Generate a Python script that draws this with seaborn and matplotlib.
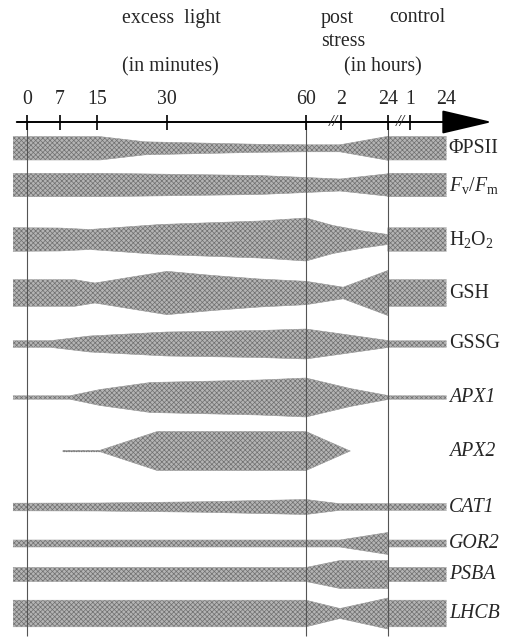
import numpy as np
import pandas as pd
import matplotlib
matplotlib.use('Agg')
import matplotlib.pyplot as plt
import seaborn as sns

# time axis (schematic positions: minutes of excess light, then post stress / control hours)
tick_pos = [0, 7, 15, 30, 60, 67.5, 77.6, 82.4, 90.1]
tick_labels = ['0', '7', '15', '30', '60', '2', '24', '1', '24']
guide_pos = [0, 60, 77.6]
break_pos = [65.8, 80.2]

# relative level (half band width) of each parameter along the time axis
psii_x = [-3, 15.7, 25.4, 50, 60, 67.3, 77.6, 77.6, 90.2]
psii_w = [11.7, 11.7, 6.5, 4, 3.5, 3.5, 12, 11.7, 11.7]
fvfm_x = [-3, 15.7, 50, 60, 67.3, 77.6, 77.6, 90.2]
fvfm_w = [11.7, 11.7, 9.5, 7.5, 6, 11.2, 11.7, 11.7]
h2o2_x = [-3, 7, 13.5, 28.6, 50, 60, 65.8, 72.3, 77.6, 77.6, 90.2]
h2o2_w = [11.8, 11.5, 10, 15, 18.5, 21.5, 14, 8.5, 5, 11.7, 11.7]
gsh_x = [-3, 10.3, 14.6, 30.1, 40, 50, 60, 68, 77.6, 77.6, 90.2]
gsh_w = [13.3, 13.3, 10, 21.7, 17.5, 14, 11.7, 5.8, 22.5, 13.3, 13.3]
gssg_x = [-3, 5, 13.5, 30, 50, 60, 66.2, 77.6, 77.6, 90.2]
gssg_w = [3.3, 3.3, 8, 12, 13.5, 15, 11, 3.5, 3.2, 3.2]
apx1_x = [-3, 9.2, 15.7, 26.5, 50, 60, 69.5, 77.6, 77.6, 90.2]
apx1_w = [1.7, 1.7, 8, 15, 17.5, 19.5, 9, 2, 1.7, 1.7]
apx2_x = [7.7, 15.7, 28, 60, 69.5]
apx2_w = [0.7, 0.7, 19.5, 19.5, 0]
cat1_x = [-3, 15.7, 37.2, 50, 60, 67.3, 77.6, 90.2]
cat1_w = [3.8, 4, 5.2, 6.5, 7.5, 3.3, 3.3, 3.3]
gor2_x = [-3, 67.3, 77.6, 77.6, 90.2]
gor2_w = [3.5, 3.5, 11, 3.5, 3.5]
psba_x = [-3, 60, 67.3, 77.6, 77.6, 90.2]
psba_w = [7, 7, 14, 14, 7, 7]
lhcb_x = [-3, 60, 67.3, 77.6, 77.6, 90.2]
lhcb_w = [13.3, 13.3, 5, 15.5, 13.3, 13.3]

labels = ['ΦPSII', r'$F_{\mathrm{v}}/F_{\mathrm{m}}$', r'H$_2$O$_2$', 'GSH', 'GSSG',
          'APX1', 'APX2', 'CAT1', 'GOR2', 'PSBA', 'LHCB']
italic = [False, False, False, False, False, True, True, True, True, True, True]
profiles = [(psii_x, psii_w), (fvfm_x, fvfm_w), (h2o2_x, h2o2_w), (gsh_x, gsh_w),
            (gssg_x, gssg_w), (apx1_x, apx1_w), (apx2_x, apx2_w), (cat1_x, cat1_w),
            (gor2_x, gor2_w), (psba_x, psba_w), (lhcb_x, lhcb_w)]

# layout (pixel rows of the figure)
row_y = [148.3, 185, 239.5, 293, 344, 397.5, 451, 507, 543.5, 574.5, 613.5]
axis_y = 122

sns.set_theme(style='white')
plt.rcParams['font.family'] = ['Liberation Serif', 'DejaVu Serif']
plt.rcParams['mathtext.fontset'] = 'custom'
plt.rcParams['mathtext.rm'] = 'Liberation Serif'
plt.rcParams['mathtext.it'] = 'Liberation Serif:italic'
plt.rcParams['hatch.linewidth'] = 0.5
fs = 14.3

fig = plt.figure(figsize=(5.12, 6.41), dpi=100)
ax = fig.add_axes([0, 0, 1, 1])
ax.set_xlim(-27 / 4.65, 485 / 4.65)
ax.set_ylim(641, 0)
ax.axis('off')

band_color = '#b4b4b4'
hatch_color = '#707070'
rows = []
for i, (xs, ws) in enumerate(profiles):
    xs = np.array(xs, dtype=float)
    ws = np.array(ws, dtype=float)
    ax.fill_between(xs, row_y[i] - ws, row_y[i] + ws, facecolor=band_color,
                    edgecolor=hatch_color, hatch='xxxxxxx', linewidth=0, zorder=2)
    for x, w in zip(xs, ws):
        rows.append({'row': i, 'x': x, 'top': row_y[i] - w, 'bot': row_y[i] + w})
df = pd.DataFrame(rows)
for i in range(len(profiles)):
    sub = df[df['row'] == i]
    sns.lineplot(x=sub['x'].values, y=sub['top'].values, ax=ax, color='#9c9c9c',
                 lw=0.4, sort=False, estimator=None, zorder=3)
    sns.lineplot(x=sub['x'].values, y=sub['bot'].values, ax=ax, color='#9c9c9c',
                 lw=0.4, sort=False, estimator=None, zorder=3)

# APX2 dotted lead-in
ax.plot(apx2_x[:2], [row_y[6]] * 2, color='#777777', lw=0.9, ls=(0, (1, 1)), zorder=3)

# guide lines
ax.vlines(guide_pos, axis_y, 636, color='#555555', lw=0.8, zorder=4)

# time axis with arrow
ax.annotate('', xy=(100, axis_y), xytext=(-2.2, axis_y),
            arrowprops=dict(arrowstyle='-|>,head_length=32,head_width=7.5',
                            mutation_scale=1, lw=1.4, color='black',
                            shrinkA=0, shrinkB=0), zorder=5)
ax.vlines(tick_pos, axis_y - 7, axis_y + 8, color='black', lw=1.2, zorder=5)
for p, t in zip(tick_pos, tick_labels):
    ax.text(p, 104.5, t, ha='center', va='baseline', fontsize=fs)
for p in break_pos:
    ax.text(p, axis_y + 0.5, '//', ha='center', va='center', fontsize=12,
            style='italic', zorder=6)

# headings
ax.text(31, 22.5, 'excess  light', ha='center', va='baseline', fontsize=fs)
ax.text(30.8, 71.5, '(in minutes)', ha='center', va='baseline', fontsize=fs)
ax.text(66.7, 22.5, 'post', ha='center', va='baseline', fontsize=fs)
ax.text(68, 46.5, 'stress', ha='center', va='baseline', fontsize=fs)
ax.text(83.9, 22.5, 'control', ha='center', va='baseline', fontsize=fs)
ax.text(76.6, 71.5, '(in hours)', ha='center', va='baseline', fontsize=fs)

# row labels
for lab, y, it in zip(labels, row_y, italic):
    ax.text(90.7, y, lab, ha='left', va='center', fontsize=fs,
            style='italic' if it else 'normal')

fig.savefig('out.png', dpi=100)
